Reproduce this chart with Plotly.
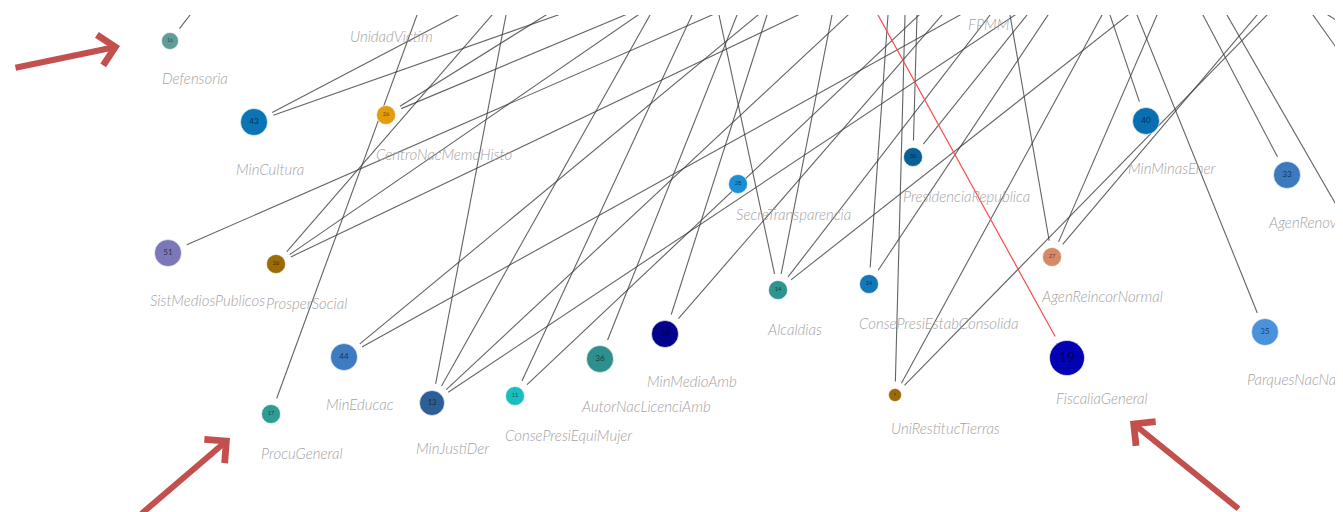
import plotly.graph_objects as go
import math

# ---------------- data ----------------
NODE_NAMES = ["Defensoria", "MinCultura", "CentroNacMemoHisto", "SistMediosPublicos", "ProsperSocial",
              "SecreTransparencia", "PresidenciaRepublica", "MinMinasEner", "AgenRenovables", "Alcaldias",
              "ConsePresiEstabConsolida", "AgenReincorNormal", "MinEducac", "MinJustiDer", "ConsePresiEquiMujer",
              "AutorNacLicenciAmb", "MinMedioAmb", "UniRestitucTierras", "FiscaliaGeneral", "ProcuGeneral",
              "ParquesNacNaturales", "UnidadVictim", "FPMM"]
NODE_X = [170, 254, 386, 168, 276, 738, 913, 1146, 1287, 778, 869, 1052, 344, 432, 515, 600, 665, 895, 1067, 271, 1265, 368, 978]
NODE_Y = [41, 122, 115, 253, 264, 184, 157, 121, 175, 290, 284, 257, 357, 403, 396, 359, 334, 395, 358, 414, 332, -11, -15]
NODE_SIZE = [17, 27, 19, 27, 19, 19, 19, 27, 27, 19, 19, 19, 27, 25, 19, 27, 27, 13, 35, 19, 27, 27, 19]
NODE_NUM = ["16", "43", "26", "51", "26", "28", "30", "40", "33", "14", "24", "27", "44", "13", "11", "36", "34", "9", "19", "17", "35", "", ""]
NODE_COLOR = ["#5f9e98", "#0a74b4", "#e39c0c", "#7b78ba", "#9c6a06", "#1a8fd8", "#0a5f94", "#0a6fb0", "#3d79bd",
              "#2e9490", "#1278ba", "#d48a66", "#3f7bc0", "#2e5e96", "#19bfbf", "#2e8f8c", "#02028c", "#9a6a06",
              "#0202b4", "#2f9c94", "#4b92dc", "#888888", "#888888"]

# hidden nodes off the right edge
HIDDEN_NAMES = ["OffR1", "OffR2", "OffR3"]
HIDDEN_X = [1400, 1400, 1400]
HIDDEN_Y = [316, 137, 61]

# edges: node -> where the edge leaves the top of the view
EDGE_NODE = ["Defensoria", "ProcuGeneral", "MinCultura", "MinCultura", "CentroNacMemoHisto", "CentroNacMemoHisto",
             "SistMediosPublicos", "ProsperSocial", "ProsperSocial", "ProsperSocial", "MinEducac", "MinEducac",
             "MinJustiDer", "MinJustiDer", "MinJustiDer", "MinJustiDer", "ConsePresiEquiMujer", "ConsePresiEquiMujer",
             "AutorNacLicenciAmb", "MinMedioAmb", "MinMedioAmb", "Alcaldias", "Alcaldias", "Alcaldias", "Alcaldias",
             "ConsePresiEstabConsolida", "ConsePresiEstabConsolida", "PresidenciaRepublica", "PresidenciaRepublica",
             "UniRestitucTierras", "UniRestitucTierras", "UniRestitucTierras", "AgenReincorNormal", "AgenReincorNormal",
             "AgenReincorNormal", "MinMinasEner", "ParquesNacNaturales", "AgenRenovables", "OffR1", "OffR2", "OffR3"]
EDGE_TOP_X = [190, 417, 458, 558, 546, 625,
              712, 492, 638, 798, 758, 960,
              506, 650, 848, 1015, 692, 919,
              737, 767, 942, 719, 832, 990, 1128,
              888, 1048, 917, 1027,
              905, 1102, 1267, 1010, 1157,
              1257, 1110, 1137, 1203, 1227, 1313, 1328]

HIGHLIGHT_NODE = "FiscaliaGeneral"
HIGHLIGHT_TOP_X = 878

# label placement tweaks (layout)
LABEL_DY_OVERRIDE = {"SecreTransparencia": 32, "FiscaliaGeneral": 42}
LABEL_DX_OVERRIDE = {"SecreTransparencia": -2, "FiscaliaGeneral": -11}

# ---------------- build ----------------
pos = {n: (x, y, s / 2) for n, x, y, s in zip(NODE_NAMES, NODE_X, NODE_Y, NODE_SIZE)}
for n, x, y in zip(HIDDEN_NAMES, HIDDEN_X, HIDDEN_Y):
    pos[n] = (x, y, 0)

GAP = 7
TOP = 15          # top clip of the drawing in window pixels
PAGE_OFF = 8      # default page body margin
W, H = 1343, 512


def seg(node, tx):
    nx, ny, r = pos[node]
    dx, dy = tx - nx, TOP - ny
    L = math.hypot(dx, dy)
    ux, uy = dx / L, dy / L
    g = (r + GAP) if r > 0 else 0
    sx, sy = nx + ux * g, ny + uy * g
    t = (ny + 5) / (ny - TOP)
    ex, ey = nx + dx * t, ny + dy * t
    return [sx, ex, None], [sy, ey, None]


ex, ey = [], []
for n, tx in zip(EDGE_NODE, EDGE_TOP_X):
    a, b = seg(n, tx)
    ex += a
    ey += b
rx, ry = seg(HIGHLIGHT_NODE, HIGHLIGHT_TOP_X)

fig = go.Figure()
fig.add_trace(go.Scatter(x=ex, y=ey, mode="lines", line=dict(color="rgba(60,60,60,0.8)", width=1.1),
                         hoverinfo="skip", showlegend=False))
fig.add_trace(go.Scatter(x=rx, y=ry, mode="lines", line=dict(color="#ff4a4a", width=1.2),
                         hoverinfo="skip", showlegend=False))

fig.add_trace(go.Scatter(
    x=NODE_X, y=NODE_Y, mode="markers+text",
    marker=dict(size=NODE_SIZE, color=NODE_COLOR, opacity=1, line=dict(color="rgba(255,255,255,0.6)", width=1)),
    text=NODE_NUM, textposition="middle center",
    textfont=dict(size=[max(4, s * 0.3) if s < 30 else 14 for s in NODE_SIZE], color="rgba(0,0,0,0.6)",
                  family="Lato"),
    hoverinfo="skip", showlegend=False))

lx, ly = [], []
for n, x, y, s in zip(NODE_NAMES, NODE_X, NODE_Y, NODE_SIZE):
    r = s / 2
    lx.append(x + LABEL_DX_OVERRIDE.get(n, -2 * r + 9))
    ly.append(y + LABEL_DY_OVERRIDE.get(n, 22 + 2 * r))
fig.add_trace(go.Scatter(
    x=lx, y=ly, mode="text", text=NODE_NAMES, textposition="middle right",
    textfont=dict(size=15, color="#a3a3a3", family="Lato", style="italic", weight=300),
    hoverinfo="skip", showlegend=False))

ARROWS = [((120, 46), (14, 68)), ((230, 438), (140, 515)), ((1130, 421), (1240, 510))]
for (hx, hy), (tx, ty) in ARROWS:
    fig.add_annotation(x=hx, y=hy, ax=tx, ay=ty, xref="x", yref="y", axref="x", ayref="y",
                       showarrow=True, arrowhead=4, arrowsize=1, arrowwidth=6, arrowcolor="#c4504e", text="")

fig.update_layout(
    width=W - PAGE_OFF, height=H - PAGE_OFF,
    margin=dict(l=0, r=0, t=TOP - PAGE_OFF, b=0),
    paper_bgcolor="white", plot_bgcolor="white",
    xaxis=dict(range=[PAGE_OFF, W], visible=False, fixedrange=True),
    yaxis=dict(range=[H, TOP], visible=False, fixedrange=True),
)
fig.write_html("out.html")
